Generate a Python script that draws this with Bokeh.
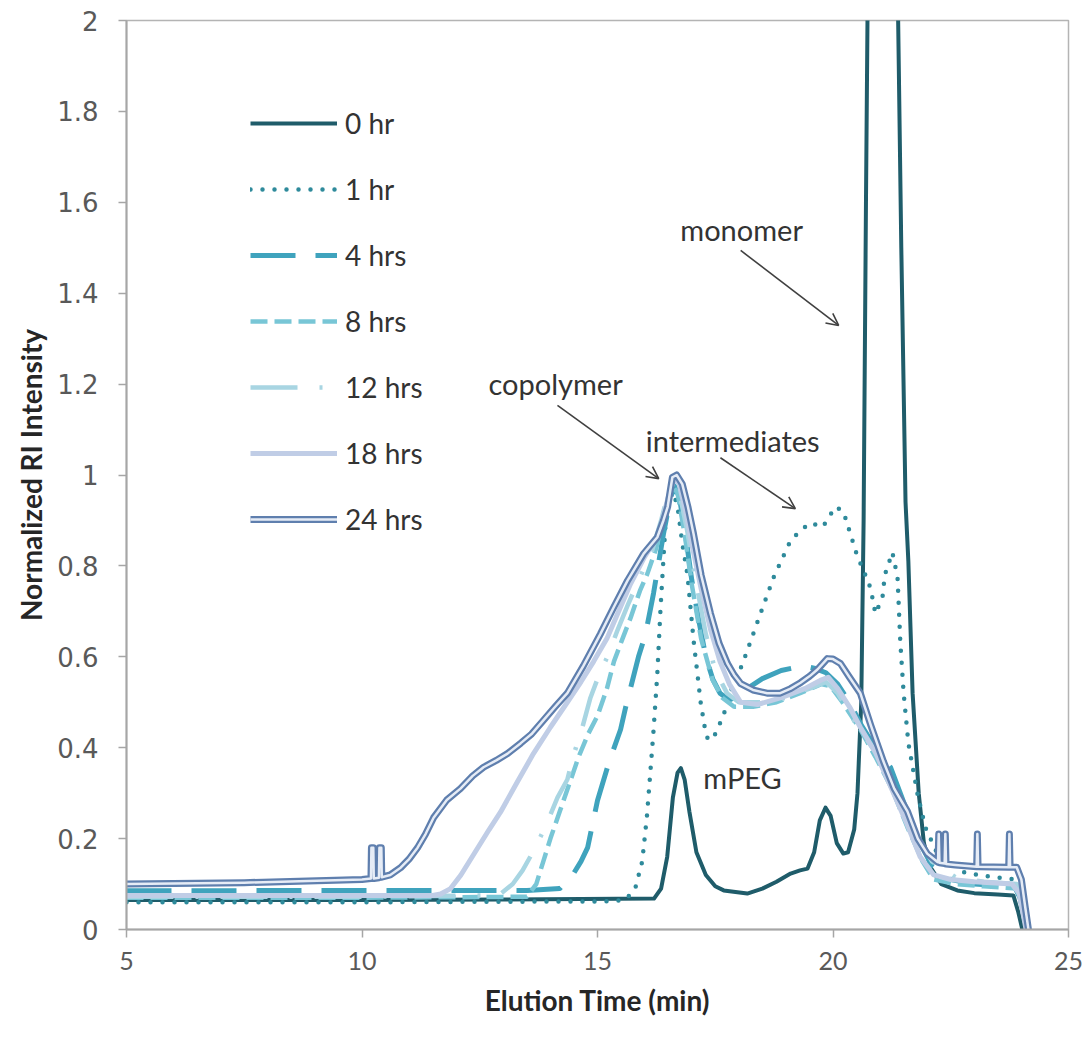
from bokeh.plotting import figure
from bokeh.models import (Range1d, FixedTicker, CustomJSTickFormatter, Legend, LegendItem,
                          Label, Arrow, OpenHead)
from bokeh.embed import file_html
from bokeh.resources import INLINE

# ---------------- data (elution time in min, normalized RI intensity) ----------------
t_0h = [5.0, 10.0, 13.0, 16.2, 16.35, 16.48, 16.6, 16.7, 16.77, 16.85, 16.95, 17.1, 17.3, 17.5,
        17.68, 18.18, 18.5, 18.8, 19.1, 19.3, 19.46, 19.6, 19.72, 19.84, 19.95, 20.08, 20.22,
        20.32, 20.45, 20.52, 20.6, 20.65, 20.7, 20.74, 21.37, 21.45, 21.54, 21.6, 21.69, 21.82,
        21.93, 22.07, 22.3, 22.64, 23.0, 23.5, 23.83, 23.93, 24.02]
y_0h = [0.065, 0.065, 0.066, 0.068, 0.09, 0.16, 0.29, 0.345, 0.355, 0.33, 0.26, 0.17, 0.12, 0.095,
        0.086, 0.079, 0.09, 0.105, 0.123, 0.13, 0.134, 0.17, 0.24, 0.268, 0.25, 0.19, 0.167,
        0.17, 0.22, 0.3, 0.5, 0.9, 1.6, 2.1, 2.1, 1.5, 0.94, 0.81, 0.52, 0.3,
        0.19, 0.137, 0.1, 0.086, 0.08, 0.077, 0.075, 0.04, 0.0]

t_1h = [5.0, 10.0, 15.3, 15.6, 15.8, 15.95, 16.05, 16.19, 16.27, 16.34, 16.44, 16.52, 16.6, 16.7,
        16.8, 16.91, 17.04, 17.19, 17.3, 17.36, 17.5, 17.67, 17.85, 18.08, 18.46, 18.74, 19.1,
        19.31, 19.52, 19.78, 20.05, 20.22, 20.37, 20.52, 20.65, 20.8, 20.9, 21.05, 21.1, 21.26,
        21.37, 21.43, 21.5, 21.6, 21.79, 21.96, 22.2, 22.43, 22.8, 23.4, 23.9, 24.0, 24.12]
y_1h = [0.06, 0.06, 0.062, 0.066, 0.09, 0.15, 0.25, 0.438, 0.563, 0.71, 0.885, 0.95, 0.965, 0.93,
        0.85, 0.78, 0.636, 0.5, 0.43, 0.416, 0.43, 0.47, 0.53, 0.585, 0.695, 0.775, 0.856,
        0.878, 0.895, 0.885, 0.93, 0.92, 0.87, 0.82, 0.79, 0.75, 0.695, 0.73, 0.78, 0.83,
        0.775, 0.63, 0.52, 0.41, 0.3, 0.225, 0.17, 0.15, 0.125, 0.115, 0.11, 0.08, 0.0]

t_4h = [5.0, 10.0, 13.5, 14.2, 14.49, 14.65, 14.79, 15.0, 15.25, 15.49, 15.6, 15.87, 16.02, 16.19,
        16.4, 16.55, 16.64, 16.74, 16.88, 17.0, 17.15, 17.3, 17.45, 17.6, 17.8, 18.0, 18.25, 18.5,
        18.9, 19.37, 19.6, 19.85, 20.1, 20.35, 20.6, 20.9, 21.22, 21.5, 21.8, 22.1, 22.5, 23.0,
        23.85, 23.97, 24.12]
y_4h = [0.085, 0.086, 0.086, 0.09, 0.123, 0.15, 0.18, 0.284, 0.37, 0.44, 0.49, 0.6, 0.65, 0.74,
        0.87, 0.95, 0.975, 0.95, 0.86, 0.77, 0.68, 0.6, 0.55, 0.52, 0.505, 0.515, 0.535, 0.552,
        0.57, 0.58, 0.575, 0.565, 0.54, 0.5, 0.45, 0.4, 0.357, 0.28, 0.2, 0.14, 0.11, 0.1,
        0.095, 0.07, 0.0]

t_8h = [5.0, 10.0, 13.5, 13.7, 13.85, 14.0, 14.2, 14.4, 14.6, 14.8, 15.0, 15.2, 15.35, 15.55, 15.7,
        15.9, 16.06, 16.25, 16.45, 16.6, 16.7, 16.85, 17.0, 17.2, 17.44, 17.65, 17.9, 18.3, 18.8,
        19.3, 19.75, 19.95, 20.2, 20.58, 20.9, 21.25, 21.58, 21.9, 22.14, 22.6, 23.2, 23.9,
        24.02, 24.12]
y_8h = [0.07, 0.07, 0.072, 0.1, 0.15, 0.2, 0.26, 0.32, 0.38, 0.43, 0.47, 0.53, 0.59, 0.645, 0.685,
        0.745, 0.783, 0.84, 0.93, 0.975, 0.96, 0.87, 0.76, 0.64, 0.55, 0.51, 0.49, 0.49, 0.5,
        0.52, 0.54, 0.535, 0.5, 0.44, 0.38, 0.31, 0.225, 0.15, 0.11, 0.1, 0.095, 0.09,
        0.05, 0.0]

t_12h = [5.0, 10.0, 12.9, 13.2, 13.41, 13.68, 13.93, 14.15, 14.36, 14.49, 14.68, 14.85, 15.05, 15.21,
         15.43, 15.64, 15.9, 16.15, 16.35, 16.5, 16.62, 16.72, 16.9, 17.1, 17.3, 17.5, 17.75, 18.0,
         18.5, 19.0, 19.5, 19.85, 20.1, 20.5, 20.9, 21.3, 21.7, 22.1, 22.6, 23.2, 23.9, 24.02, 24.12]
y_12h = [0.072, 0.072, 0.075, 0.1, 0.13, 0.18, 0.235, 0.29, 0.33, 0.383, 0.445, 0.51, 0.565, 0.6,
         0.66, 0.713, 0.775, 0.83, 0.9, 0.96, 0.985, 0.97, 0.88, 0.76, 0.65, 0.57, 0.52, 0.5,
         0.5, 0.51, 0.53, 0.545, 0.52, 0.45, 0.39, 0.31, 0.22, 0.15, 0.115, 0.105, 0.1, 0.06, 0.0]

t_18h = [5.0, 10.0, 11.5, 11.67, 11.88, 12.1, 12.4, 12.7, 12.94, 13.3, 13.64, 14.0, 14.36, 14.65,
         14.92, 15.2, 15.45, 15.7, 16.0, 16.3, 16.5, 16.62, 16.72, 16.85, 17.0, 17.2, 17.4, 17.6,
         17.8, 18.04, 18.4, 18.9, 19.4, 19.73, 19.9, 20.1, 20.35, 20.58, 20.9, 21.2, 21.58, 21.85,
         22.14, 22.5, 23.0, 23.8, 23.95, 24.1]
y_18h = [0.075, 0.075, 0.075, 0.078, 0.09, 0.12, 0.17, 0.22, 0.258, 0.325, 0.387, 0.445, 0.5, 0.545,
         0.59, 0.64, 0.7, 0.76, 0.82, 0.87, 0.95, 0.99, 0.985, 0.93, 0.85, 0.75, 0.66, 0.59,
         0.54, 0.5, 0.495, 0.51, 0.53, 0.548, 0.555, 0.53, 0.49, 0.445, 0.39, 0.32, 0.23, 0.16,
         0.12, 0.11, 0.105, 0.1, 0.08, 0.0]

t_24h = [5.0, 7.5, 10.0, 10.19, 10.2, 10.24, 10.25, 10.36, 10.37, 10.41, 10.42, 10.6, 10.82, 11.0,
         11.18, 11.35, 11.52, 11.8, 12.09, 12.35, 12.58, 12.85, 13.09, 13.37, 13.6, 13.85, 14.1,
         14.36, 14.7, 15.06, 15.35, 15.64, 15.98, 16.27, 16.4, 16.49, 16.59, 16.68, 16.8, 16.92,
         17.04, 17.2, 17.4, 17.58, 17.76, 17.9, 18.04, 18.3, 18.6, 18.88, 19.1, 19.31, 19.5, 19.67,
         19.88, 20.0, 20.16, 20.35, 20.58, 20.8, 21.07, 21.3, 21.58, 21.8, 22.0, 22.2, 22.23,
         22.245, 22.26, 22.37, 22.385, 22.4, 22.6, 23.05, 23.065, 23.08, 23.73, 23.745, 23.76,
         23.9, 24.0, 24.08, 24.15]
y_24h = [0.1, 0.103, 0.11, 0.112, 0.18, 0.18, 0.112, 0.114, 0.18, 0.18, 0.115, 0.12, 0.136, 0.155,
         0.18, 0.21, 0.246, 0.285, 0.31, 0.338, 0.357, 0.372, 0.387, 0.41, 0.43, 0.46, 0.49,
         0.52, 0.58, 0.65, 0.71, 0.768, 0.827, 0.863, 0.9, 0.93, 0.995, 1.0, 0.98, 0.93,
         0.87, 0.78, 0.695, 0.63, 0.585, 0.56, 0.541, 0.527, 0.52, 0.52, 0.53, 0.543, 0.557, 0.572,
         0.596, 0.595, 0.585, 0.555, 0.52, 0.45, 0.37, 0.31, 0.26, 0.2, 0.167, 0.15, 0.148,
         0.21, 0.147, 0.145, 0.21, 0.144, 0.142, 0.138, 0.21, 0.138, 0.137, 0.21, 0.137,
         0.137, 0.11, 0.05, 0.0]

series_names = ["0 hr", "1 hr", "4 hrs", "8 hrs", "12 hrs", "18 hrs", "24 hrs"]
x_ticks = [5, 10, 15, 20, 25]
y_ticks = [0, 0.2, 0.4, 0.6, 0.8, 1.0, 1.2, 1.4, 1.6, 1.8, 2.0]

# ---------------- figure ----------------
p = figure(width=1089, height=1038, output_backend="svg", toolbar_location=None,
           x_range=Range1d(5, 25), y_range=Range1d(0, 2),
           min_border_left=126, min_border_right=21, min_border_top=20, min_border_bottom=109)
p.background_fill_color = "white"
p.border_fill_color = "white"
p.outline_line_color = "#b4b4b4"
p.outline_line_width = 1.5
p.xgrid.visible = False
p.ygrid.visible = False

for ax in (p.xaxis[0], p.yaxis[0]):
    ax.axis_line_color = "#a6a6a6"
    ax.axis_line_width = 2
    ax.major_tick_line_color = "#a6a6a6"
    ax.major_tick_line_width = 1.5
    ax.major_tick_in = 0
    ax.major_tick_out = 8
    ax.minor_tick_line_color = None
    ax.major_label_text_color = "#595959"
    ax.axis_label_text_color = "#262626"
    ax.axis_label_text_font = "Lato"
    ax.axis_label_text_font_style = "bold"
    ax.axis_label_text_font_size = "28px"

p.xaxis.ticker = FixedTicker(ticks=x_ticks)
p.xaxis.major_label_text_font = "Lato"
p.xaxis.major_label_text_font_size = "25px"
p.xaxis.major_label_standoff = 14
p.xaxis.axis_label = "Elution Time (min)"
p.xaxis.axis_label_standoff = 10

p.yaxis.ticker = FixedTicker(ticks=y_ticks)
p.yaxis.formatter = CustomJSTickFormatter(code="return (Math.round(tick*10)/10).toString();")
p.yaxis.major_label_text_font = "DejaVu Sans"
p.yaxis.major_label_text_font_size = "26px"
p.yaxis.major_label_standoff = 20
p.yaxis.axis_label = "Normalized RI Intensity"
p.yaxis.axis_label_standoff = 6

common = dict(line_join="round")
r0 = p.line(t_0h, y_0h, line_color="#1f5c6a", line_width=4, **common)
r1 = p.line(t_1h, y_1h, line_color="#2e8a9b", line_width=4.5, line_dash="0 12",
            line_cap="round", **common)
r4 = p.line(t_4h, y_4h, line_color="#3fa3bd", line_width=5, line_dash="45 20", **common)
r8 = p.line(t_8h, y_8h, line_color="#78c6d6", line_width=4.5, line_dash="17 7", **common)
r12 = p.line(t_12h, y_12h, line_color="#a8d5e2", line_width=4.5, line_dash="47 22 3 22", **common)
r18 = p.line(t_18h, y_18h, line_color="#c0cde6", line_width=5, **common)
r24a = p.line(t_24h, y_24h, line_color="#5f7fae", line_width=7, **common)
r24b = p.line(t_24h, y_24h, line_color="#e6ecf6", line_width=2.5, **common)

legend = Legend(items=[
    LegendItem(label=series_names[0], renderers=[r0]),
    LegendItem(label=series_names[1], renderers=[r1]),
    LegendItem(label=series_names[2], renderers=[r4]),
    LegendItem(label=series_names[3], renderers=[r8]),
    LegendItem(label=series_names[4], renderers=[r12]),
    LegendItem(label=series_names[5], renderers=[r18]),
    LegendItem(label=series_names[6], renderers=[r24a, r24b]),
], location=(124, 390))
legend.label_text_font = "Lato"
legend.label_text_font_size = "28px"
legend.label_text_color = "#333333"
legend.glyph_width = 87
legend.glyph_height = 40
legend.label_height = 40
legend.label_standoff = 8
legend.spacing = 26
legend.padding = 0
legend.margin = 0
legend.border_line_alpha = 0
legend.background_fill_alpha = 0
p.add_layout(legend)

# annotations
ann_text = ["monomer", "copolymer", "intermediates", "mPEG"]
ann_x = [18.06, 14.11, 17.87, 18.08]
ann_y = [1.54, 1.201, 1.076, 0.334]
for txt, ax_, ay_ in zip(ann_text, ann_x, ann_y):
    p.add_layout(Label(x=ax_, y=ay_, text=txt, text_align="center", text_baseline="middle",
                       text_font="Lato", text_font_size="29px", text_color="#333333"))

arrow_start_x = [18.04, 14.15, 17.61]
arrow_start_y = [1.494, 1.153, 1.038]
arrow_end_x = [20.12, 16.30, 19.20]
arrow_end_y = [1.329, 0.992, 0.926]
for sx, sy, ex, ey in zip(arrow_start_x, arrow_start_y, arrow_end_x, arrow_end_y):
    p.add_layout(Arrow(x_start=sx, y_start=sy, x_end=ex, y_end=ey,
                       line_color="#404040", line_width=1.6,
                       end=OpenHead(size=12, line_color="#404040", line_width=1.6)))

open("out.html", "w").write(file_html(p, INLINE))
